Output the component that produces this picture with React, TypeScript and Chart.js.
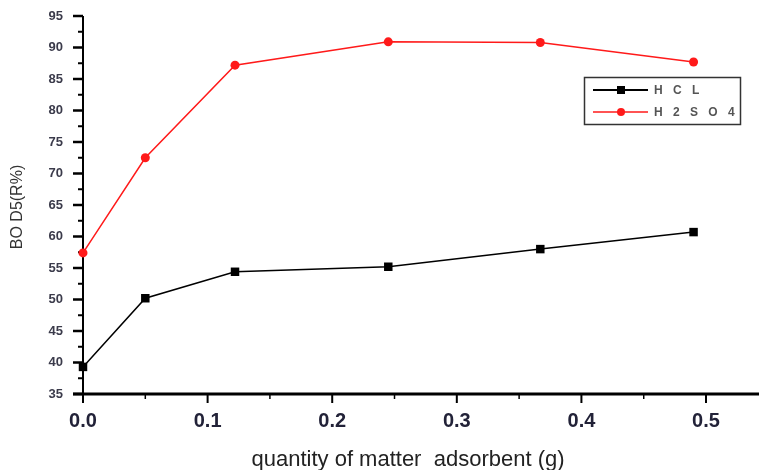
import React, { useEffect, useRef } from 'react';
import { Chart, registerables } from 'chart.js';

Chart.register(...registerables);

const xValues = [0, 0.05, 0.122, 0.245, 0.367, 0.49];
const hclValues = [39.3, 50.2, 54.4, 55.2, 58.0, 60.7];
const h2so4Values = [57.4, 72.5, 87.2, 90.9, 90.8, 87.7];
const seriesLabels = ['H C L', 'H 2 S O 4'];
const seriesColors = ['#000000', '#ff1a1a'];
const xMajorTicks = [0, 0.1, 0.2, 0.3, 0.4, 0.5];
const xMinorTicks = [0.05, 0.15, 0.25, 0.35, 0.45];
const yMajorTicks = [35, 40, 45, 50, 55, 60, 65, 70, 75, 80, 85, 90, 95];
const yMinorTicks = [37.5, 42.5, 47.5, 52.5, 57.5, 62.5, 67.5, 72.5, 77.5, 82.5, 87.5, 92.5];
const xTitle = 'quantity of matter  adsorbent (g)';
const yTitle = 'BO D5(R%)';

const FONT = '"Liberation Sans", Arial, sans-serif';

export default function App() {
  const ref = useRef<HTMLCanvasElement | null>(null);

  useEffect(() => {
    const canvas = ref.current;
    if (!canvas) return;

    const axesPlugin = {
      id: 'axesPlugin',
      beforeDatasetsDraw(chart: any) {
        const { ctx, chartArea } = chart;
        const xs = chart.scales.x;
        const ys = chart.scales.y;
        ctx.save();
        ctx.strokeStyle = '#000';
        ctx.lineWidth = 2;
        ctx.beginPath();
        ctx.moveTo(chartArea.left, chartArea.top);
        ctx.lineTo(chartArea.left, chartArea.bottom);
        ctx.stroke();
        yMajorTicks.forEach((v) => {
          const y = ys.getPixelForValue(v);
          ctx.lineWidth = 2.5;
          ctx.beginPath();
          ctx.moveTo(chartArea.left - 10, y);
          ctx.lineTo(chartArea.left, y);
          ctx.stroke();
        });
        yMinorTicks.forEach((v) => {
          const y = ys.getPixelForValue(v);
          ctx.lineWidth = 2;
          ctx.beginPath();
          ctx.moveTo(chartArea.left - 5, y);
          ctx.lineTo(chartArea.left, y);
          ctx.stroke();
        });
        ctx.lineWidth = 3;
        ctx.beginPath();
        ctx.moveTo(chartArea.left - 10, chartArea.bottom);
        ctx.lineTo(chart.width, chartArea.bottom);
        ctx.stroke();
        xMajorTicks.forEach((v) => {
          const x = xs.getPixelForValue(v);
          ctx.lineWidth = 2;
          ctx.beginPath();
          ctx.moveTo(x, chartArea.bottom);
          ctx.lineTo(x, chartArea.bottom + 9);
          ctx.stroke();
        });
        xMinorTicks.forEach((v) => {
          const x = xs.getPixelForValue(v);
          ctx.lineWidth = 1.5;
          ctx.beginPath();
          ctx.moveTo(x, chartArea.bottom);
          ctx.lineTo(x, chartArea.bottom + 5);
          ctx.stroke();
        });
        ctx.restore();
      },
      afterDraw(chart: any) {
        const { ctx } = chart;
        ctx.save();
        ctx.fillStyle = '#222';
        ctx.font = `22px ${FONT}`;
        ctx.textAlign = 'center';
        ctx.textBaseline = 'alphabetic';
        ctx.fillText(xTitle, 408, 466);
        ctx.save();
        ctx.translate(18, 207);
        ctx.rotate(-Math.PI / 2);
        ctx.font = `16px ${FONT}`;
        ctx.fillStyle = '#333';
        ctx.textAlign = 'center';
        ctx.textBaseline = 'middle';
        ctx.fillText(yTitle, 0, 0);
        ctx.restore();
        ctx.strokeStyle = '#333';
        ctx.lineWidth = 1.5;
        ctx.strokeRect(584.5, 77.5, 156, 47);
        const rows = [90, 112];
        chart.data.datasets.forEach((ds: any, i: number) => {
          const y = rows[i];
          ctx.strokeStyle = ds.borderColor;
          ctx.lineWidth = i === 0 ? 2 : 1.5;
          ctx.beginPath();
          ctx.moveTo(593, y);
          ctx.lineTo(648, y);
          ctx.stroke();
          ctx.fillStyle = ds.borderColor;
          if (i === 0) {
            ctx.fillRect(617, y - 4, 8, 8);
          } else {
            ctx.beginPath();
            ctx.arc(621, y, 4, 0, Math.PI * 2);
            ctx.fill();
          }
          ctx.fillStyle = '#555';
          ctx.font = `bold 12px ${FONT}`;
          (ctx as any).letterSpacing = '3.5px';
          ctx.textAlign = 'left';
          ctx.textBaseline = 'middle';
          ctx.fillText(ds.label, 654, y + 1);
          (ctx as any).letterSpacing = '0px';
        });
        ctx.restore();
      },
    };

    const chart = new Chart(canvas, {
      type: 'line',
      data: {
        datasets: [
          {
            label: seriesLabels[0],
            data: xValues.map((x, i) => ({ x, y: hclValues[i] })),
            borderColor: seriesColors[0],
            backgroundColor: seriesColors[0],
            borderWidth: 1.5,
            pointStyle: 'rect',
            pointRadius: 6,
            pointBorderWidth: 0,
            clip: false as any,
          },
          {
            label: seriesLabels[1],
            data: xValues.map((x, i) => ({ x, y: h2so4Values[i] })),
            borderColor: seriesColors[1],
            backgroundColor: seriesColors[1],
            borderWidth: 1.5,
            pointStyle: 'circle',
            pointRadius: 4.5,
            pointBorderWidth: 0,
            clip: false as any,
          },
        ],
      },
      options: {
        responsive: false,
        animation: false,
        layout: { padding: { top: 16, right: 0, left: 0, bottom: 0 } },
        plugins: { legend: { display: false }, tooltip: { enabled: false } },
        scales: {
          x: {
            type: 'linear',
            min: 0,
            max: 0.5377,
            grid: { display: false, drawTicks: false },
            border: { display: false },
            afterBuildTicks: (s: any) => {
              s.ticks = xMajorTicks.map((v) => ({ value: v }));
            },
            afterFit: (s: any) => {
              s.height = 76;
              s.paddingLeft = 0;
              s.paddingRight = 0;
            },
            ticks: {
              padding: 15,
              color: '#222238',
              font: { family: FONT, size: 20, weight: 'bold' },
              callback: (v: any) => Number(v).toFixed(1),
              maxRotation: 0,
              autoSkip: false,
            },
          },
          y: {
            type: 'linear',
            min: 35,
            max: 95,
            grid: { display: false, drawTicks: false },
            border: { display: false },
            afterBuildTicks: (s: any) => {
              s.ticks = yMajorTicks.map((v) => ({ value: v }));
            },
            afterFit: (s: any) => {
              s.width = 83;
              s.paddingTop = 0;
              s.paddingBottom = 0;
            },
            ticks: {
              padding: 20,
              color: '#3b3b4b',
              font: { family: FONT, size: 13, weight: 'bold' },
              autoSkip: false,
            },
          },
        },
      },
      plugins: [axesPlugin],
    });

    return () => chart.destroy();
  }, []);

  return (
    <div style={{ position: 'fixed', left: 0, top: 0, width: 759, height: 470, background: '#fff' }}>
      <canvas ref={ref} width={759} height={470} style={{ display: 'block' }} />
    </div>
  );
}
